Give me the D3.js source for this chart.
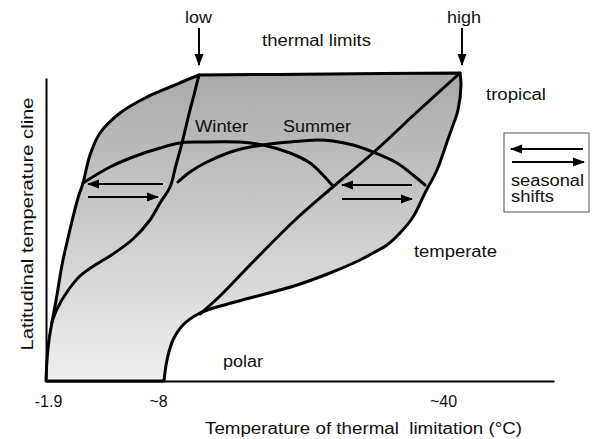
<!DOCTYPE html>
<html>
<head>
<meta charset="utf-8">
<script src="https://cdn.jsdelivr.net/npm/d3@7"></script>
<style>
  body { margin: 0; background: #fff; }
  text { font-family: "Liberation Sans", Arial, sans-serif; font-size: 16px; fill: #111; }
</style>
</head>
<body>
<svg id="chart" width="594" height="439"></svg>
<script>
// diagram units: x = distance along the thermal-limit axis, y = up the latitudinal cline
const topEdge = [[153, 306], [284, 307], [414, 308]]
const rightEdge = [[414, 308], [415, 296], [412, 271], [406, 253], [401, 239], [391, 211], [379, 188],
  [367, 164], [354, 148], [341, 136], [327, 128], [314, 121], [284, 108], [248, 95], [204, 83],
  [171, 74], [154, 68], [137, 56], [127, 41], [121, 21], [118, 0]]
const leftEdge = [[0, 0], [1, 21], [3, 41], [6, 59], [11, 86], [16, 116], [22, 143], [27, 164],
  [32, 183], [37, 198], [44, 226], [54, 248], [74, 268], [101, 284], [124, 294], [136, 299], [153, 306]]
const lowLine = [[153, 306], [148, 286], [144, 271], [136, 238], [130, 216], [124, 194], [114, 178],
  [104, 161], [87, 142], [64, 125], [54, 119], [34, 105], [21, 89], [11, 72], [6, 59]]
const highLine = [[414, 308], [371, 269], [328, 229], [288, 195], [248, 160], [204, 116], [174, 85], [154, 67]]
const winter = [[37, 198], [64, 214], [87, 224], [114, 233], [134, 238], [154, 239], [194, 239],
  [217, 236], [244, 228], [264, 218], [277, 206], [286, 196]]
const summer = [[132, 199], [144, 209], [161, 219], [191, 231], [217, 236], [244, 239], [271, 241],
  [287, 240], [307, 236], [327, 229], [351, 218], [367, 206], [379, 196]]
const shiftArrows = [
  [[117, 197], [42, 197]], [[42, 184], [112, 184]],
  [[366, 196], [296, 196]], [[296, 182], [366, 182]],
  [[537, 232], [465, 232]], [[466, 219], [538, 219]]
]
const limitArrows = [[[153, 353], [153, 316]], [[416, 353], [416, 316]]]
const tickPos = [2, 112, 397]
const tickLabels = ['-1.9', '~8', '~40']

const svg = d3.select('#chart')
const x = d3.scaleLinear().domain([0, 508]).range([46, 554])
const y = d3.scaleLinear().domain([0, 308]).range([381, 73])

const defs = svg.append('defs')
const grad = defs.append('linearGradient').attr('id', 'fillGrad')
  .attr('gradientUnits', 'userSpaceOnUse')
  .attr('x1', 0).attr('y1', y(308)).attr('x2', 0).attr('y2', y(0))
grad.append('stop').attr('offset', 0).attr('stop-color', '#a9a9a9')
grad.append('stop').attr('offset', 1).attr('stop-color', '#efefef')

defs.append('marker').attr('id', 'head')
  .attr('markerUnits', 'userSpaceOnUse')
  .attr('viewBox', '0 -5 12 10').attr('refX', 11).attr('refY', 0)
  .attr('markerWidth', 12).attr('markerHeight', 10).attr('orient', 'auto')
  .append('path').attr('d', 'M0,-4.5L12,0L0,4.5Z').attr('fill', '#000')

const curve = d3.line().x(d => x(d[0])).y(d => y(d[1])).curve(d3.curveCatmullRom.alpha(0.5))
const straight = d3.line().x(d => x(d[0])).y(d => y(d[1]))

// shaded envelope
let outline = curve(topEdge) + curve(rightEdge).replace(/^M/, 'L') + curve(leftEdge).replace(/^M/, 'L') + 'Z'
svg.append('path').attr('d', outline).attr('fill', 'url(#fillGrad)').attr('stroke', 'none')

// axes
svg.append('g').attr('transform', `translate(0,${y(0)})`)
  .call(d3.axisBottom(x).tickValues(tickPos).tickFormat((d, i) => tickLabels[i]).tickSize(0).tickPadding(15).tickSizeOuter(0))
  .call(g => g.select('.domain').attr('stroke', '#000').attr('stroke-width', 2))
  .call(g => g.selectAll('text').attr('font-family', null).attr('font-size', null).attr('fill', '#111'))

const yAxisScale = d3.scaleLinear().domain([0, 303]).range([y(0), y(303)])
svg.append('g').attr('transform', `translate(${x(0)},0)`)
  .call(d3.axisLeft(yAxisScale).tickValues([]).tickSizeOuter(0))
  .call(g => g.select('.domain').attr('stroke', '#000').attr('stroke-width', 2))

// boundary + lines
svg.append('path').attr('d', outline).attr('fill', 'none').attr('stroke', '#000').attr('stroke-width', 3).attr('stroke-linejoin', 'round')
svg.selectAll('.curve').data([lowLine, highLine, winter, summer]).join('path').attr('class', 'curve')
  .attr('d', d => curve(d)).attr('fill', 'none').attr('stroke', '#000').attr('stroke-width', 3).attr('stroke-linecap', 'round')

// arrows
svg.selectAll('.arrow').data([...shiftArrows, ...limitArrows]).join('path').attr('class', 'arrow')
  .attr('d', d => straight(d)).attr('stroke', '#000').attr('stroke-width', 2).attr('marker-end', 'url(#head)')

// legend box
svg.append('rect').attr('x', 504).attr('y', 133).attr('width', 85).attr('height', 79)
  .attr('fill', 'none').attr('stroke', '#555').attr('stroke-width', 1)

// labels
const labels = [
  ['low', 185, 23, 27], ['high', 447, 23, 34], ['thermal limits', 262, 46, 109],
  ['tropical', 486, 100, 60], ['Winter', 195, 132, 53], ['Summer', 283, 132, 68],
  ['seasonal', 511, 186, 73], ['shifts', 511, 202, 43], ['temperate', 414, 257, 83],
  ['polar', 223, 367, 40], ['Temperature of thermal  limitation (°C)', 205, 434, 317]
]
svg.selectAll('.lbl').data(labels).join('text').attr('class', 'lbl')
  .attr('x', d => d[1]).attr('y', d => d[2]).attr('textLength', d => d[3])
  .attr('lengthAdjust', 'spacingAndGlyphs').style('white-space', 'pre').text(d => d[0])

svg.append('text').attr('transform', 'translate(33,224) rotate(-90)')
  .attr('text-anchor', 'middle').attr('textLength', 253).attr('lengthAdjust', 'spacingAndGlyphs')
  .text('Latitudinal temperature cline')
</script>
</body>
</html>
